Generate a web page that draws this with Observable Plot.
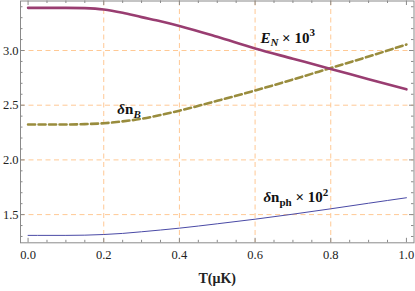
<!DOCTYPE html>
<html><head><meta charset="utf-8">
<script src="https://cdn.jsdelivr.net/npm/d3@7"></script>
<script src="https://cdn.jsdelivr.net/npm/@observablehq/plot@0.6"></script>
<style>html,body{margin:0;padding:0;background:#fff}</style>
</head><body><div id="chart"></div>
<script>
// ---- data ----
const T    = [0, 0.05, 0.1, 0.15, 0.2, 0.25, 0.3, 0.35, 0.4, 0.5, 0.6, 0.7, 0.8, 0.9, 1.0];
const EN   = [3.39, 3.39, 3.39, 3.387, 3.375, 3.345, 3.305, 3.268, 3.225, 3.125, 3.018, 2.925, 2.832, 2.738, 2.645];
const dnB  = [2.324, 2.324, 2.324, 2.327, 2.335, 2.352, 2.376, 2.41, 2.45, 2.54, 2.634, 2.735, 2.84, 2.945, 3.055];
const dnPh = [1.31, 1.31, 1.31, 1.312, 1.318, 1.328, 1.343, 1.359, 1.376, 1.416, 1.458, 1.504, 1.553, 1.604, 1.654];

const xTicks = [0, 0.2, 0.4, 0.6, 0.8, 1.0];
const xTickLabels = ["0.0", "0.2", "0.4", "0.6", "0.8", "1.0"];
const xMinor = [0.05, 0.1, 0.15, 0.25, 0.3, 0.35, 0.45, 0.5, 0.55, 0.65, 0.7, 0.75, 0.85, 0.9, 0.95];
const xGrid = [0.2, 0.4, 0.6, 0.8];
const yTicks = [1.5, 2.0, 2.5, 3.0];
const yTickLabels = ["1.5", "2.0", "2.5", "3.0"];
const yMinor = [1.3, 1.4, 1.6, 1.7, 1.8, 1.9, 2.1, 2.2, 2.3, 2.4, 2.6, 2.7, 2.8, 2.9, 3.1, 3.2, 3.3, 3.4];
const xLabel = "T(μK)";

// curve labels: anchor (data units) and rich-text segments
const curveLabels = [
  {name: "EN", x: 0.614, y: 3.073, segs: [
    {t: "E", it: true}, {t: "N", it: true, sub: true}, {t: " × 10"}, {t: "3", sup: true}]},
  {name: "dnB", x: 0.236, y: 2.415, segs: [
    {t: "δ", it: true}, {t: "n"}, {t: "B", it: true, sub: true}]},
  {name: "dnph", x: 0.622, y: 1.613, segs: [
    {t: "δ", it: true}, {t: "n"}, {t: "ph", sub: true}, {t: " × 10"}, {t: "2", sup: true}]}
];

// ---- layout ----
const W = 415, H = 291;
const mL = 20, mR = 1.5, mT = 0.5, mB = 48.7;
const pW = W - mL - mR, pH = H - mT - mB;
const frameColor = "#8a8a8a";
const gridColor = "#ffc995";
const serif = "'Liberation Serif', 'DejaVu Serif', serif";

const plot = Plot.plot({
  width: W, height: H,
  marginLeft: mL, marginRight: mR, marginTop: mT, marginBottom: mB,
  x: {domain: [-0.02, 1.02]},
  y: {domain: [1.2422, 3.4525]},
  style: {fontFamily: serif, background: "white", color: "#222"},
  marks: [
    Plot.gridX(xGrid, {stroke: gridColor, strokeOpacity: 1, strokeDasharray: "5,3.5"}),
    Plot.gridY(yTicks, {stroke: gridColor, strokeOpacity: 1, strokeDasharray: "5,3.5"}),
    // tick marks (inside the frame, all four sides)
    Plot.ruleX(xTicks, {x: d => d, stroke: frameColor, insetTop: pH - 4.5}),
    Plot.ruleX(xTicks, {x: d => d, stroke: frameColor, insetBottom: pH - 4.5}),
    Plot.ruleX(xMinor, {x: d => d, stroke: frameColor, insetTop: pH - 2.5}),
    Plot.ruleX(xMinor, {x: d => d, stroke: frameColor, insetBottom: pH - 2.5}),
    Plot.ruleY(yTicks, {y: d => d, stroke: frameColor, insetRight: pW - 4.5}),
    Plot.ruleY(yTicks, {y: d => d, stroke: frameColor, insetLeft: pW - 4.5}),
    Plot.ruleY(yMinor, {y: d => d, stroke: frameColor, insetRight: pW - 2.5}),
    Plot.ruleY(yMinor, {y: d => d, stroke: frameColor, insetLeft: pW - 2.5}),
    Plot.frame({stroke: frameColor}),
    // tick labels
    Plot.axisX({ticks: xTicks, tickSize: 0, tickPadding: 7, label: null,
      tickFormat: d => xTickLabels[xTicks.indexOf(d)], fontSize: 12.5, fill: "#222"}),
    Plot.axisY({ticks: yTicks, tickSize: 0, tickPadding: 2, label: null,
      tickFormat: d => yTickLabels[yTicks.indexOf(d)], fontSize: 12.5, fill: "#222"}),
    // curves
    Plot.line(T, {x: T, y: dnPh, stroke: "#4a4aa6", strokeWidth: 1, curve: "monotone-x"}),
    Plot.line(T, {x: T, y: dnB, stroke: "#998c3d", strokeWidth: 2.6, strokeDasharray: "7,3.5", curve: "monotone-x"}),
    Plot.line(T, {x: T, y: EN, stroke: "#993d71", strokeWidth: 2.6, curve: "monotone-x"}),
    // curve labels
    Plot.text(curveLabels, {x: "x", y: "y", text: "name", textAnchor: "start", lineAnchor: "bottom",
      fontSize: 15, fontWeight: "bold", fill: "#111"}),
    // axis title
    Plot.text([xLabel], {frameAnchor: "bottom", dy: 40.5, lineAnchor: "bottom",
      fontSize: 14, fontWeight: "bold", fill: "#222"})
  ]
});

// rich text for curve labels (sub/superscripts)
d3.select(plot).selectAll("text").each(function() {
  const name = this.textContent;
  const lab = curveLabels.find(l => l.name === name);
  if (!lab) return;
  const el = d3.select(this);
  el.text(null);
  let shift = 0;
  for (const s of lab.segs) {
    const target = s.sub ? 3.5 : s.sup ? -6.5 : 0;
    const ts = el.append("tspan").text(s.t).attr("dy", target - shift);
    shift = target;
    if (s.it) ts.attr("font-style", "italic");
    if (s.sub || s.sup) ts.attr("font-size", 11);
  }
});

document.getElementById("chart").appendChild(plot);
</script>
</body></html>
